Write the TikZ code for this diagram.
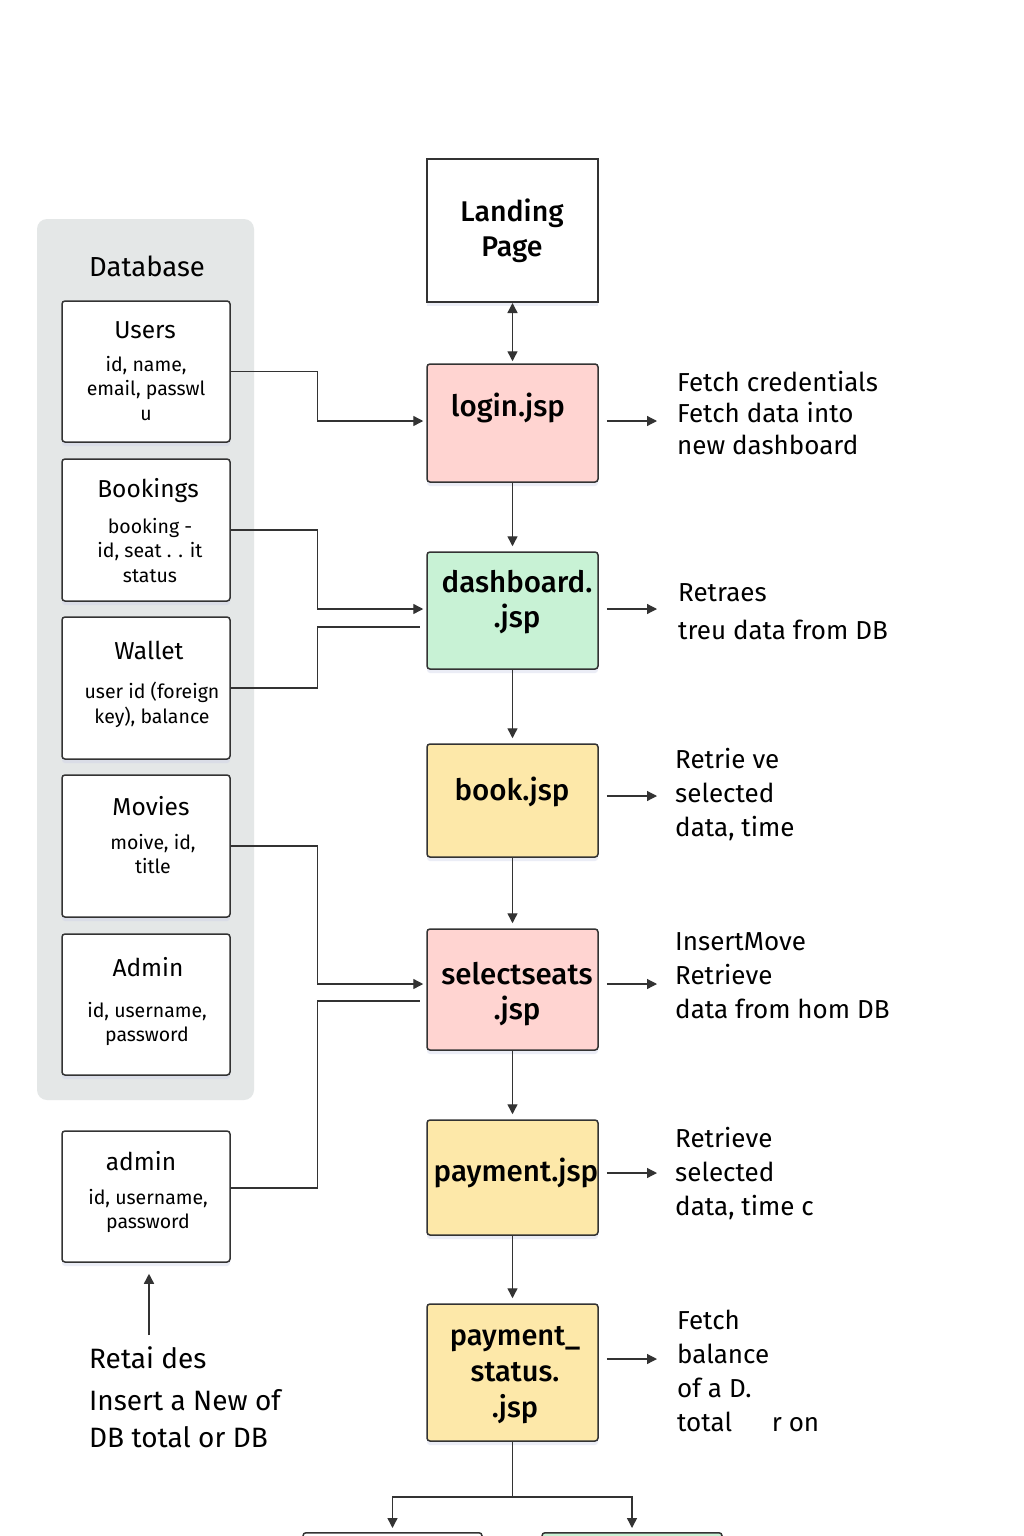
\documentclass[tikz,border=0pt]{standalone}
\usepackage{fontspec}
\setmainfont{Fira Sans}[BoldFont={Fira Sans Medium}]
\usetikzlibrary{arrows.meta,shadows}

\definecolor{linegray}{HTML}{333333}
\definecolor{panelgray}{HTML}{E4E7E7}
\definecolor{pinkfill}{HTML}{FFD4D1}
\definecolor{greenfill}{HTML}{C8F2D5}
\definecolor{yellowfill}{HTML}{FDE8A9}
\definecolor{shadowblue}{HTML}{C8CCE8}

\tikzset{
  boxshadow/.style={drop shadow={shadow xshift=0pt,shadow yshift=-4pt,opacity=0.35,fill=shadowblue}},
  dbpanelbox/.style={fill=panelgray, rounded corners=10pt, inner sep=0pt},
  tablebox/.style={draw=linegray, line width=1.5pt, fill=white, rounded corners=3pt, minimum width=168pt, boxshadow},
  jspbox/.style={draw=linegray, line width=1.5pt, rounded corners=3pt, minimum width=171pt, boxshadow},
  tabletitle/.style={anchor=base, inner sep=0pt, font=\fontsize{24.5}{29}\selectfont},
  tablebody/.style={anchor=north, align=center, inner sep=0pt, font=\fontsize{19.5}{24.5}\selectfont},
  jsplabel/.style={inner sep=0pt, align=center, font=\bfseries\fontsize{29.5}{35}\selectfont},
  note/.style={anchor=north west, align=left, inner sep=0pt, font=\fontsize{26}{34}\selectfont},
  conn/.style={draw=linegray, line width=1.4pt},
  arr/.style={conn, -{Triangle[length=10pt,width=10pt]}},
}

\begin{document}
\begin{tikzpicture}[x=1pt,y=-1pt]
  \clip (0,0) rectangle (1024,1536);
  \fill[white] (0,0) rectangle (1024,1536);

  % database panel
  \node[dbpanelbox, minimum width=217pt, minimum height=881pt] (dbpanel) at (145.5,659.5) {};
  \node[tabletitle, font=\fontsize{27.5}{32}\selectfont] (dbtitle) at (147,276) {Database};

  % tables
  \node[tablebox, minimum height=141pt] (users) at (146,371.5) {};
  \node[tabletitle] (userstitle) at (145,338) {Users};
  \node[tablebody] (usersbody) at (146,356) {id, name,\\email, passwl\\u};

  \node[tablebox, minimum height=142pt] (bookings) at (146,530) {};
  \node[tabletitle] (bookingstitle) at (148,497) {Bookings};
  \node[tablebody] (bookingsbody) at (150,518) {booking -\\id, seat . . it\\status};

  \node[tablebox, minimum height=142pt] (wallet) at (146,688) {};
  \node[tabletitle] (wallettitle) at (149,659) {Wallet};
  \node[tablebody] (walletbody) at (152,682) {user id (foreign\\key), balance};

  \node[tablebox, minimum height=142pt] (movies) at (146,846) {};
  \node[tabletitle] (moviestitle) at (151,815) {Movies};
  \node[tablebody] (moviesbody) at (153,834) {moive, id,\\title};

  \node[tablebox, minimum height=141pt] (admin) at (146,1004.5) {};
  \node[tabletitle] (admintitle) at (148,976) {Admin};
  \node[tablebody] (adminbody) at (147,1002) {id, username,\\password};

  \node[tablebox, minimum height=131pt] (admin2) at (146,1196.5) {};
  \node[tabletitle] (admin2title) at (141,1170) {admin};
  \node[tablebody] (admin2body) at (148,1189) {id, username,\\password};

  \node[note, font=\fontsize{28}{37}\selectfont] (retnote) at (89,1346) {Retai des\\[5pt]Insert a New of\\DB total or DB};
  \coordinate (retfoot) at (149,1335);
  \draw[arr, shorten >=11pt] (retfoot) -- (retfoot |- admin2.south);

  % page flow
  \node[jspbox, fill=white, rounded corners=0pt, line width=2pt, minimum height=143pt] (landing) at (512.5,230.5) {};
  \node[jsplabel, anchor=north, font=\bfseries\fontsize{28.5}{35}\selectfont] (landingtxt) at (512,199) {Landing\\Page};

  \node[jspbox, fill=pinkfill, minimum height=118pt] (login) at (512.5,423) {};
  \node[jsplabel, anchor=base] (logintxt) at (508,416) {login.jsp};

  \node[jspbox, fill=greenfill, minimum height=117pt] (dash) at (512.5,610.5) {};
  \node[jsplabel, anchor=north] (dashtxt) at (517,570) {dashboard.\\.jsp};

  \node[jspbox, fill=yellowfill, minimum height=113pt] (book) at (512.5,800.5) {};
  \node[jsplabel, anchor=base] (booktxt) at (512,800) {book.jsp};

  \node[jspbox, fill=pinkfill, minimum height=121pt] (select) at (512.5,989.5) {};
  \node[jsplabel, anchor=north] (selecttxt) at (517,962) {selectseats\\.jsp};

  \node[jspbox, fill=yellowfill, minimum height=115pt] (pay) at (512.5,1177.5) {};
  \node[jsplabel, anchor=base] (paytxt) at (516,1181) {payment.jsp};

  \node[jspbox, fill=yellowfill, minimum height=137pt] (pstatus) at (512.5,1372.5) {};
  \node[jsplabel, anchor=north, font=\bfseries\fontsize{29}{36}\selectfont] (pstatustxt) at (515,1326) {payment\_\\status.\\.jsp};

  \node[jspbox, fill=white, minimum width=179pt, minimum height=120pt, anchor=north] (endA) at (392.5,1532) {};
  \node[jspbox, fill=greenfill, minimum width=180pt, minimum height=120pt, anchor=north] (endB) at (632,1532) {};

  % notes
  \node[note, font=\fontsize{26}{31.5}\selectfont] (loginnote) at (677,371) {Fetch credentials\\Fetch data into\\new dashboard};
  \node[note] (dashnote) at (678,583) {Retraes\\[4pt]treu data from DB};
  \node[note] (booknote) at (675,748) {Retrie ve\\selected\\data, time};
  \node[note] (selectnote) at (675,932) {InsertMove\\Retrieve\\data from hom DB};
  \node[note] (paynote) at (675,1127) {Retrieve\\selected\\data, time c};
  \node[note] (pstatusnote) at (677,1310) {Fetch\\balance\\of a D.\\total \hspace{26pt} r on};

  % connectors
  \draw[conn, {Triangle[length=10pt,width=10pt]}-{Triangle[length=10pt,width=10pt]}, shorten >=2pt] (landing) -- (login);
  \foreach \a/\b in {login/dash, dash/book, book/select, select/pay, pay/pstatus}
    \draw[arr, shorten >=5pt] (\a) -- (\b);

  \coordinate (fork) at (512.5,1497);
  \draw[conn] (pstatus) -- (fork);
  \draw[arr, shorten >=4pt] (fork) -| (endA.north);
  \draw[arr, shorten >=4pt] (fork) -| (endB.north);

  \foreach \b/\y in {login/421, dash/609, book/796, select/984, pay/1173, pstatus/1359} {
    \coordinate (\b arr) at (657,\y);
    \draw[arr, line width=1.2pt, shorten <=8pt] (\b.east |- \b arr) -- (\b arr);
  }

  \draw[arr, shorten >=3pt] (users.east) -- ++(87,0) |- ([yshift=2pt]login.west);
  \draw[arr, shorten >=3pt] (bookings.east) -- ++(87,0) |- ([yshift=1.5pt]dash.west);
  \draw[conn, shorten >=6pt] (wallet.east) -- ++(87,0) |- ([yshift=-16.5pt]dash.west);
  \draw[arr, shorten >=3pt] (movies.east) -- ++(87,0) |- ([yshift=5.5pt]select.west);
  \draw[conn, shorten >=6pt] ([yshift=8.5pt]admin2.east) -- ++(87,0) |- ([yshift=-11.5pt]select.west);
\end{tikzpicture}
\end{document}
